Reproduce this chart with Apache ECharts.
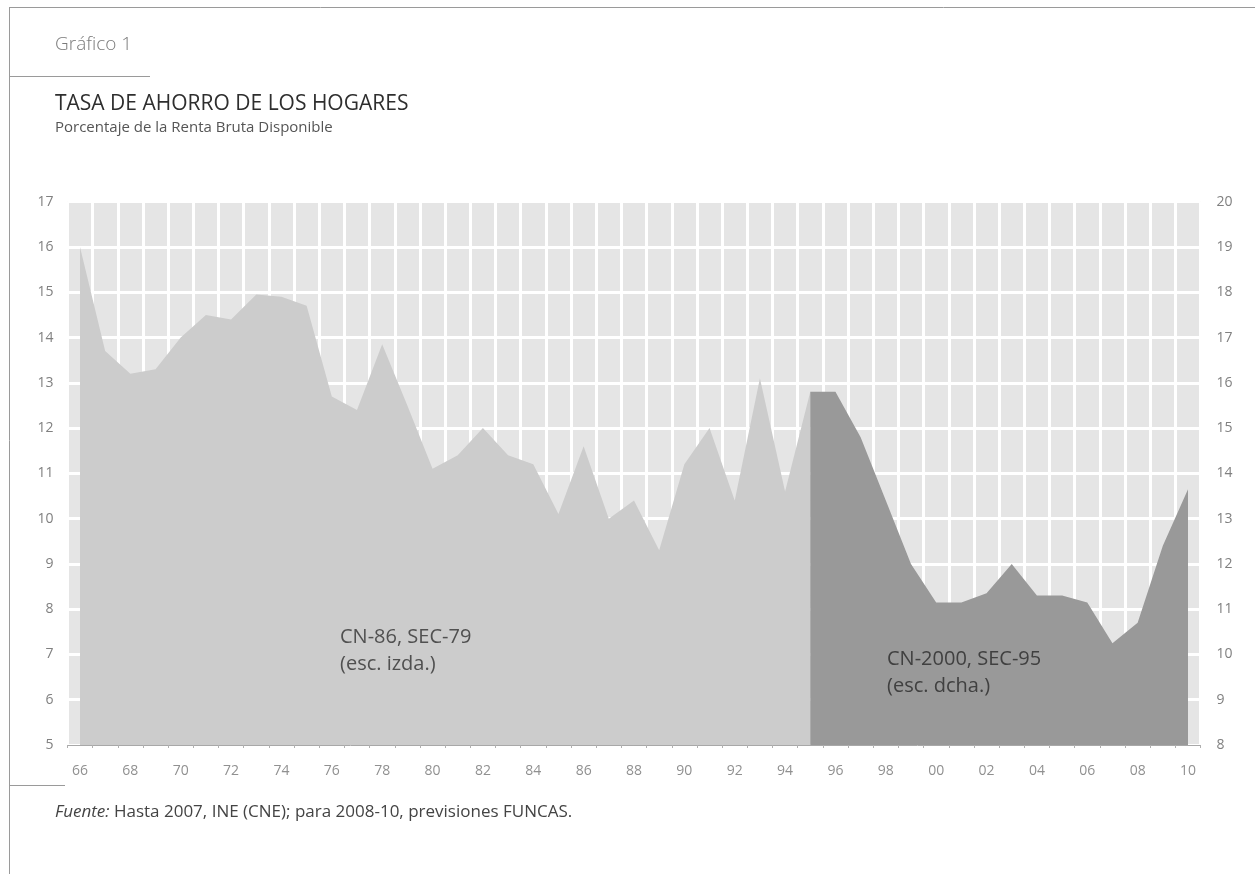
<!DOCTYPE html>
<html>
<head>
<meta charset="utf-8">
<title>Tasa de ahorro de los hogares</title>
<script src="https://cdn.jsdelivr.net/npm/echarts@6/dist/echarts.min.js"></script>
<style>
  html, body { margin: 0; padding: 0; background: #fff; }
  #main { width: 1255px; height: 874px; }
</style>
</head>
<body>
<div id="main"></div>
<script>
// años 1966-2010, etiquetas de dos cifras
var years = ['66','67','68','69','70','71','72','73','74','75','76','77','78','79','80',
  '81','82','83','84','85','86','87','88','89','90','91','92','93','94','95',
  '96','97','98','99','00','01','02','03','04','05','06','07','08','09','10'];

// CN-86, SEC-79 (escala izquierda), 1966-1995
var serieAntigua = [16.0, 13.7, 13.2, 13.3, 14.0, 14.5, 14.4, 14.95, 14.9, 14.7,
  12.7, 12.4, 13.85, 12.5, 11.1, 11.4, 12.0, 11.4, 11.2, 10.1,
  11.6, 10.0, 10.4, 9.3, 11.2, 12.0, 10.4, 13.1, 10.6, 12.8];

// CN-2000, SEC-95 (escala derecha), 1995-2010
var serieNueva = [15.8, 15.8, 14.8, 13.4, 12.0, 11.15, 11.15, 11.35, 12.0, 11.3,
  11.3, 11.15, 10.25, 10.7, 12.4, 13.65];

var leftTicks = [5, 17];
var rightTicks = [8, 20];

// alinear las series con el eje de categorías
var dataAntigua = years.map(function (y, i) {
  return i < serieAntigua.length ? serieAntigua[i] : null;
});
var offsetNueva = years.length - serieNueva.length;
var dataNueva = years.map(function (y, i) {
  return i >= offsetNueva ? serieNueva[i - offsetNueva] : null;
});

var chartDom = document.getElementById('main');
var myChart = echarts.init(chartDom);
var option;

var sans = "'Open Sans', 'DejaVu Sans', sans-serif";

option = {
  backgroundColor: '#fff',
  animation: false,
  textStyle: { fontFamily: sans },
  grid: {
    show: true,
    left: 67.4,
    right: 54.4,
    top: 201.7,
    height: 543.3,
    backgroundColor: '#e5e5e5',
    borderWidth: 0
  },
  xAxis: {
    type: 'category',
    data: years,
    boundaryGap: true,
    axisLine: { show: true, lineStyle: { color: '#a8a8a8', width: 1 } },
    axisTick: { show: true, interval: 0, length: 3, lineStyle: { color: '#b0b0b0' } },
    axisLabel: { interval: 1, margin: 19, color: '#909090', fontSize: 14 },
    splitLine: { show: true, interval: 0, lineStyle: { color: '#ffffff', width: 3 } }
  },
  yAxis: [
    {
      type: 'value',
      min: leftTicks[0],
      max: leftTicks[1],
      interval: 1,
      axisLine: { show: false },
      axisTick: { show: false },
      axisLabel: { margin: 14, color: '#808080', fontSize: 14 },
      splitLine: { show: true, lineStyle: { color: '#ffffff', width: 3 } }
    },
    {
      type: 'value',
      min: rightTicks[0],
      max: rightTicks[1],
      interval: 1,
      position: 'right',
      axisLine: { show: false },
      axisTick: { show: false },
      axisLabel: { margin: 16, color: '#808080', fontSize: 14 },
      splitLine: { show: false }
    }
  ],
  series: [
    {
      name: 'CN-86, SEC-79',
      type: 'line',
      yAxisIndex: 0,
      data: dataAntigua,
      symbol: 'none',
      lineStyle: { width: 0 },
      areaStyle: { color: '#cccccc', opacity: 1, origin: 'start' }
    },
    {
      name: 'CN-2000, SEC-95',
      type: 'line',
      yAxisIndex: 1,
      data: dataNueva,
      symbol: 'none',
      lineStyle: { width: 0 },
      areaStyle: { color: '#999999', opacity: 1, origin: 'start' }
    }
  ],
  graphic: [
    // marco
    { type: 'line', shape: { x1: 9, y1: 7.5, x2: 1255, y2: 7.5 }, style: { stroke: '#9a9a9a', lineWidth: 1 } },
    { type: 'line', shape: { x1: 9.5, y1: 7, x2: 9.5, y2: 874 }, style: { stroke: '#9a9a9a', lineWidth: 1 } },
    { type: 'line', shape: { x1: 9, y1: 76.5, x2: 150, y2: 76.5 }, style: { stroke: '#9a9a9a', lineWidth: 1 } },
    { type: 'line', shape: { x1: 9, y1: 785.5, x2: 65, y2: 785.5 }, style: { stroke: '#9a9a9a', lineWidth: 1 } },
    // cabecera
    { type: 'text', left: 55, top: 35, style: { text: 'Gráfico 1', fill: '#7a7a7a', font: '300 19px ' + sans } },
    { type: 'text', left: 55, top: 94, style: { text: 'TASA DE AHORRO DE LOS HOGARES', fill: '#2e2e2e', font: '21px ' + sans } },
    { type: 'text', left: 55, top: 120, style: { text: 'Porcentaje de la Renta Bruta Disponible', fill: '#555555', font: '15px ' + sans } },
    // notas dentro del gráfico (por encima de las áreas)
    {
      type: 'text', left: 340, top: 624, z: 100,
      style: { text: 'CN-86, SEC-79\n(esc. izda.)', fill: '#505050', font: '20px ' + sans, lineHeight: 27 }
    },
    {
      type: 'text', left: 887, top: 646, z: 100,
      style: { text: 'CN-2000, SEC-95\n(esc. dcha.)', fill: '#404040', font: '20px ' + sans, lineHeight: 27 }
    },
    // fuente
    {
      type: 'text', left: 55, top: 804,
      style: {
        text: '{i|Fuente:} Hasta 2007, INE (CNE); para 2008-10, previsiones FUNCAS.',
        fill: '#444444',
        font: '17px ' + sans,
        rich: { i: { fontStyle: 'italic', fontFamily: sans, fontSize: 17, fill: '#444444' } }
      }
    }
  ]
};

option && myChart.setOption(option);
</script>
</body>
</html>
